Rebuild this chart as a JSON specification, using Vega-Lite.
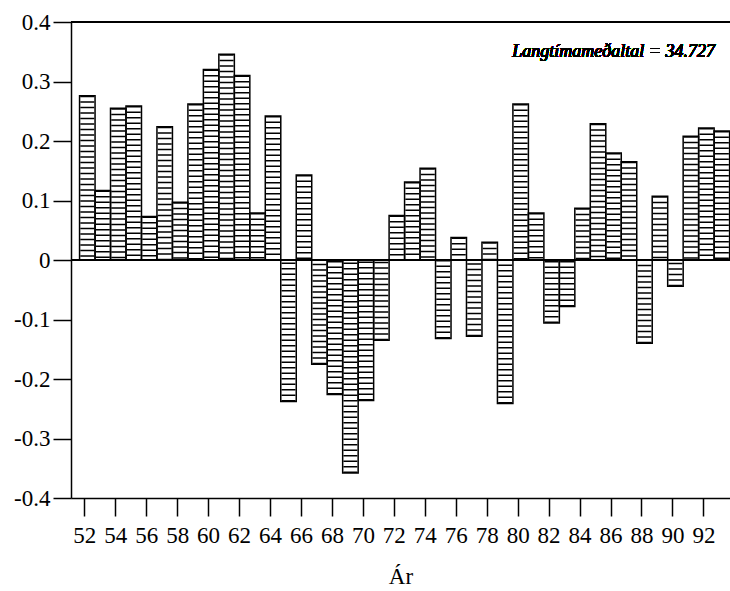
{
  "$schema": "https://vega.github.io/schema/vega-lite/v6.json",
  "autosize": "none",
  "width": 659,
  "height": 476,
  "padding": {"left": 71, "top": 22, "right": 0, "bottom": 93},
  "background": "white",
  "config": {
    "font": "Liberation Serif",
    "view": {"stroke": null},
    "axis": {"grid": false, "domainColor": "black", "tickColor": "black", "labelColor": "black", "titleColor": "black", "labelFont": "Liberation Serif", "titleFont": "Liberation Serif", "titleFontWeight": "normal", "domainWidth": 1.5, "tickWidth": 1.5, "tickSize": 18}
  },
  "data": {"values": [
    {"year": 52, "value": 0.276}, {"year": 53, "value": 0.117}, {"year": 54, "value": 0.255}, {"year": 55, "value": 0.259},
    {"year": 56, "value": 0.073}, {"year": 57, "value": 0.224}, {"year": 58, "value": 0.097}, {"year": 59, "value": 0.262},
    {"year": 60, "value": 0.320}, {"year": 61, "value": 0.346}, {"year": 62, "value": 0.310}, {"year": 63, "value": 0.079},
    {"year": 64, "value": 0.242}, {"year": 65, "value": -0.238}, {"year": 66, "value": 0.143}, {"year": 67, "value": -0.175},
    {"year": 68, "value": -0.226}, {"year": 69, "value": -0.358}, {"year": 70, "value": -0.236}, {"year": 71, "value": -0.135},
    {"year": 72, "value": 0.075}, {"year": 73, "value": 0.131}, {"year": 74, "value": 0.154}, {"year": 75, "value": -0.132},
    {"year": 76, "value": 0.038}, {"year": 77, "value": -0.128}, {"year": 78, "value": 0.030}, {"year": 79, "value": -0.241},
    {"year": 80, "value": 0.262}, {"year": 81, "value": 0.079}, {"year": 82, "value": -0.106}, {"year": 83, "value": -0.078},
    {"year": 84, "value": 0.087}, {"year": 85, "value": 0.229}, {"year": 86, "value": 0.180}, {"year": 87, "value": 0.165},
    {"year": 88, "value": -0.140}, {"year": 89, "value": 0.107}, {"year": 90, "value": -0.044}, {"year": 91, "value": 0.208},
    {"year": 92, "value": 0.222}, {"year": 93, "value": 0.217}
  ]},
  "encoding": {
    "x": {"field": "year", "type": "quantitative", "scale": {"domain": [51.14, 93.72], "nice": false, "zero": false, "padding": 0},
          "axis": {"values": [52,54,56,58,60,62,64,66,68,70,72,74,76,78,80,82,84,86,88,90,92], "format": "d", "title": "Ár", "labelFontSize": 23, "titleFontSize": 23, "labelPadding": 8, "titlePadding": 18, "labelFlush": false, "labelOverlap": false, "labelSeparation": 0}},
    "y": {"field": "value", "type": "quantitative", "scale": {"domain": [-0.4, 0.4], "nice": false, "padding": 0},
          "axis": {"values": [-0.4,-0.3,-0.2,-0.1,0,0.1,0.2,0.3,0.4], "title": null, "labelFontSize": 23, "labelPadding": 3, "labelOverlap": false,
                   "labelExpr": "datum.value == 0 ? '0' : (datum.value < 0 ? '-' + format(-datum.value, '.1f') : format(datum.value, '.1f'))"}}
  },
  "layer": [
    {
      "mark": {"type": "rule", "color": "black", "strokeWidth": 14, "strokeDash": [1.5, 4], "strokeCap": "butt", "xOffset": 3},
      "encoding": {"y2": {"datum": 0}}
    },
    {
      "mark": {"type": "bar", "width": 15.5, "fillOpacity": 0, "stroke": "black", "strokeWidth": 1.5, "xOffset": 3}
    },
    {
      "mark": {"type": "rule", "color": "black", "strokeWidth": 1.5},
      "encoding": {"x": {"value": 0}, "x2": {"value": 659}, "y": {"datum": 0}}
    },
    {
      "mark": {"type": "rule", "color": "black", "strokeWidth": 1.5},
      "encoding": {"x": {"value": 0}, "x2": {"value": 659}, "y": {"datum": 0.4}}
    },
    {
      "mark": {"type": "text", "font": "Liberation Serif", "fontStyle": "italic", "fontWeight": "normal", "fontSize": 18, "align": "right", "baseline": "middle", "color": "black"},
      "encoding": {
        "x": {"datum": 92.75},
        "y": {"datum": 0.349},
        "text": {"value": "Langtímameðaltal = 34.727"}
      }
    }
  ]
}
